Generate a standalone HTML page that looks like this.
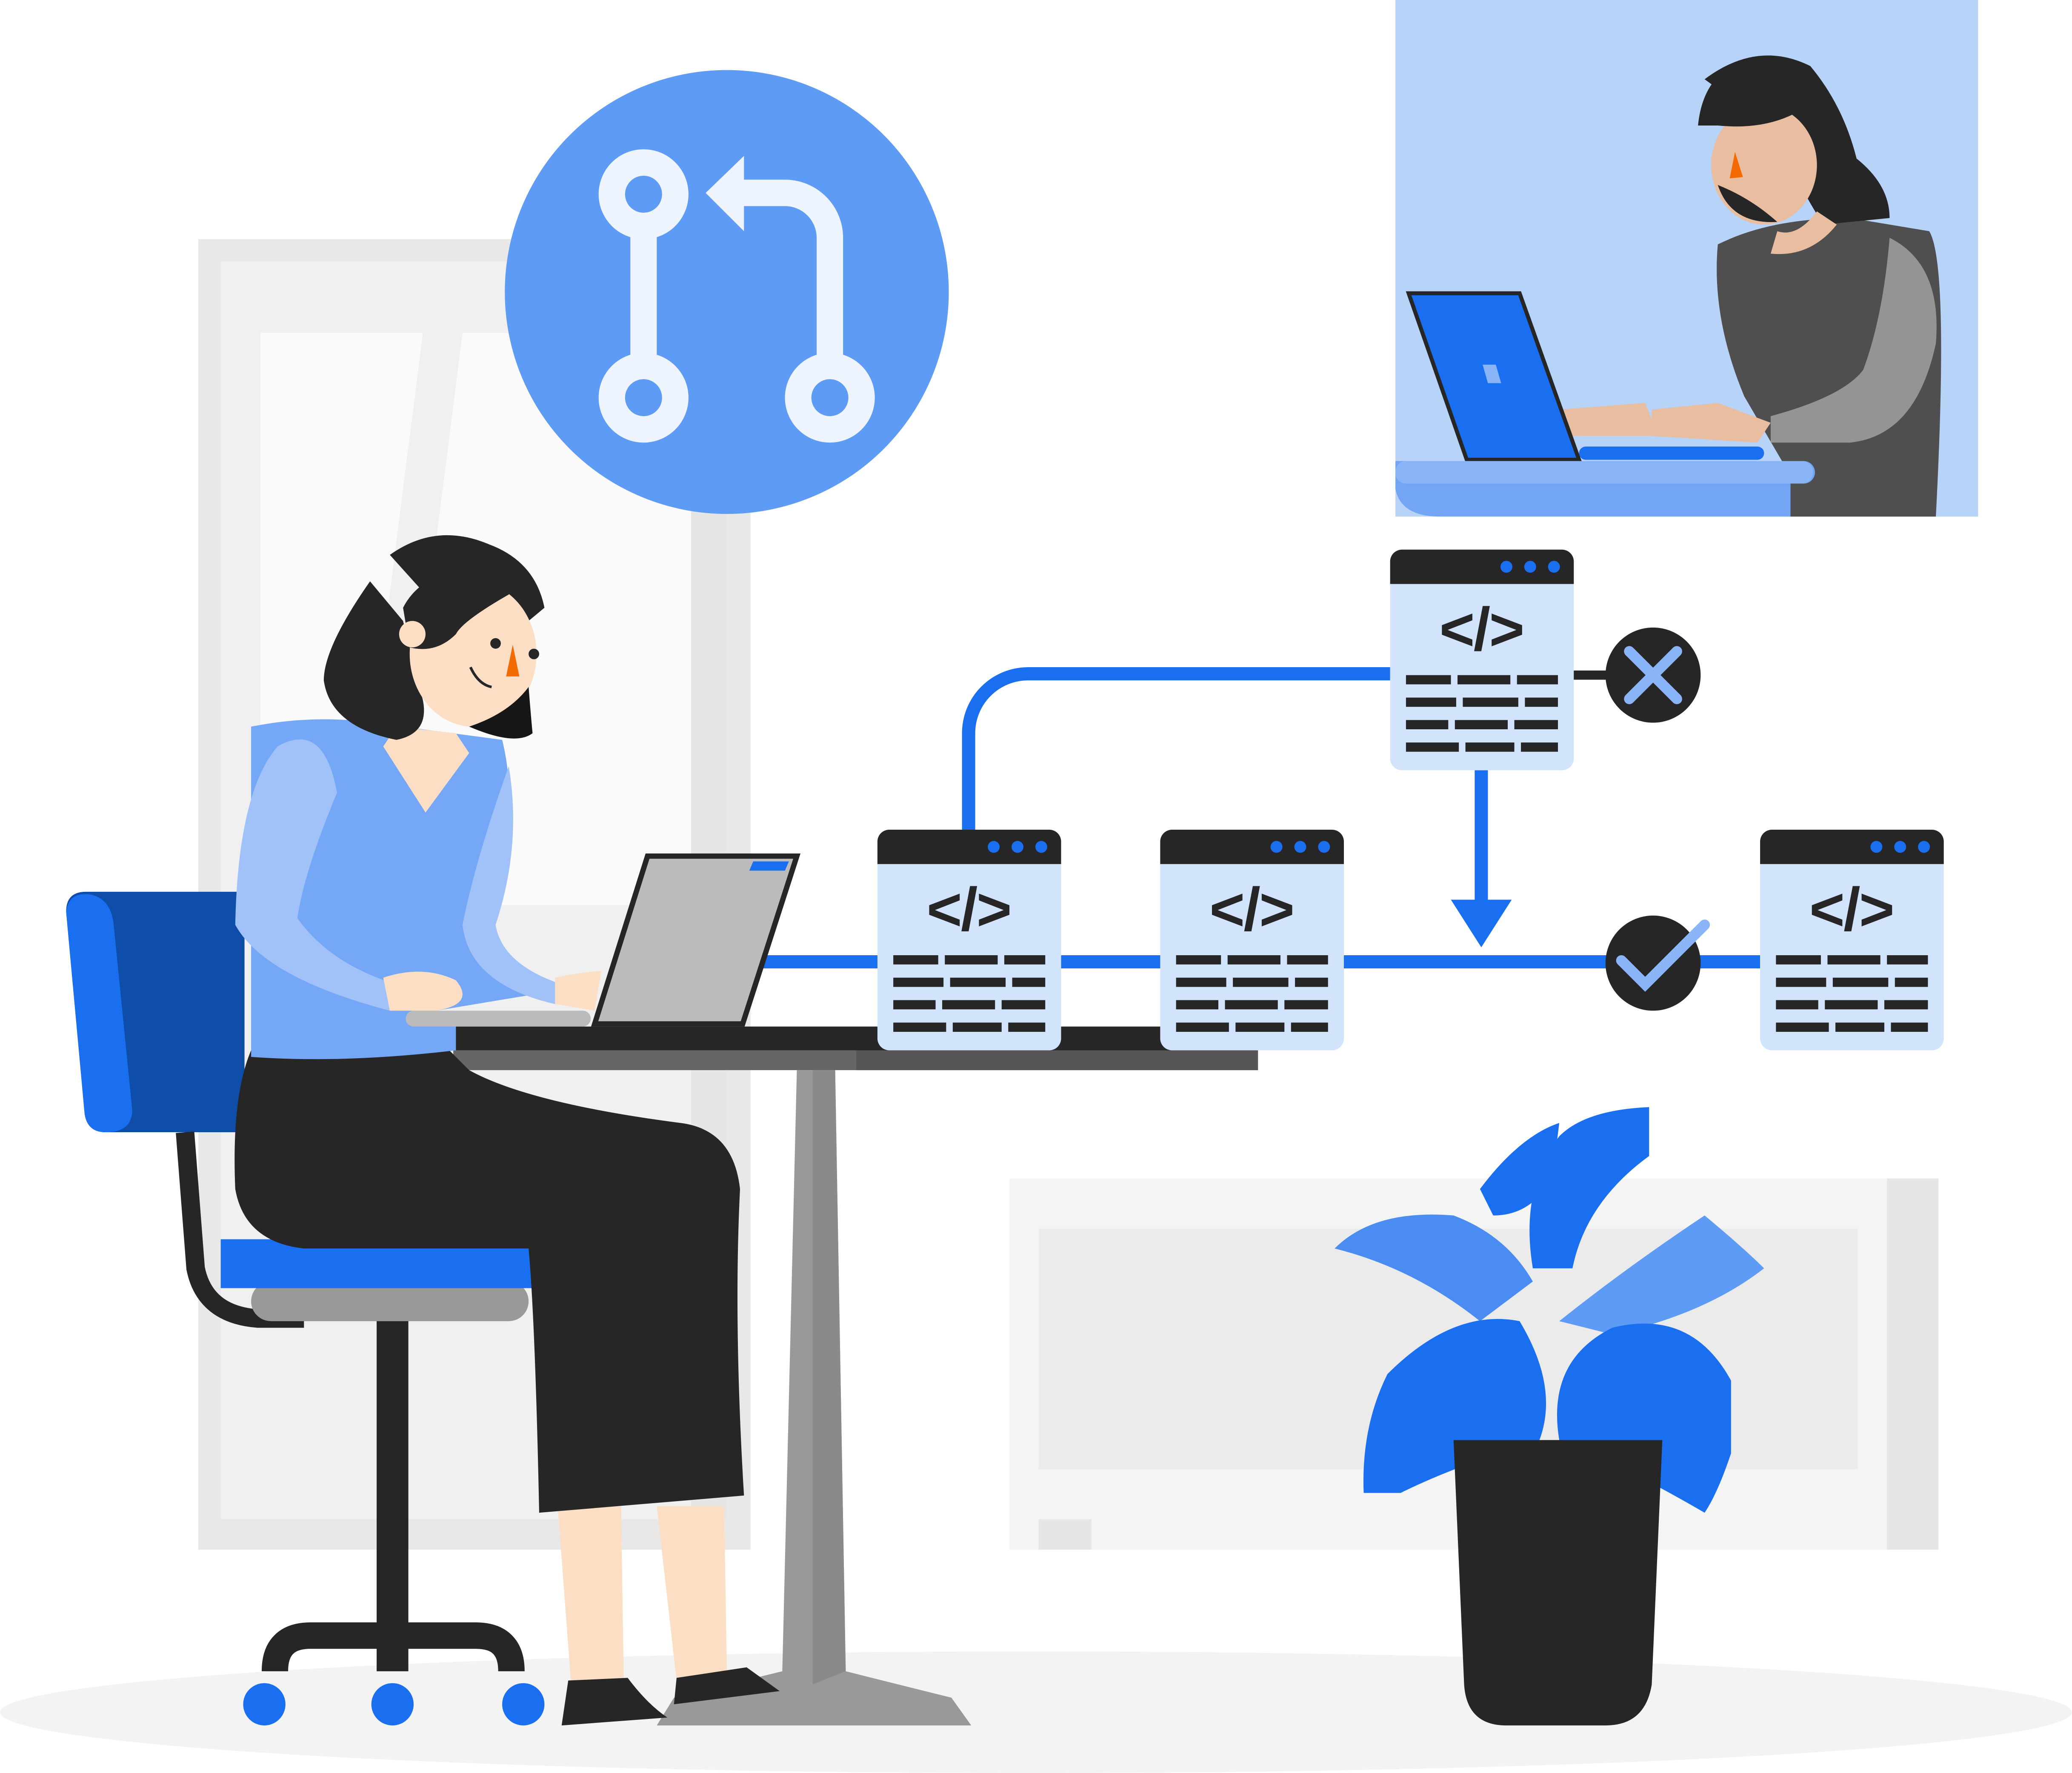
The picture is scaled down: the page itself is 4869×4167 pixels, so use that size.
<!DOCTYPE html>
<html><head><meta charset="utf-8"><style>
html,body{margin:0;padding:0;background:#fff;}
svg{display:block;}
</style></head><body>
<svg width="4869" height="4167" viewBox="0 0 1568 1342" xmlns="http://www.w3.org/2000/svg">
<defs>
<g id="win">
  <rect x="0" y="0" width="139" height="167" rx="9" fill="#d2e3fc"/>
  <path d="M0 26 V9 A9 9 0 0 1 9 0 H130 A9 9 0 0 1 139 9 V26 Z" fill="#262626"/>
  <circle cx="88" cy="13" r="4.5" fill="#1a6ff0"/>
  <circle cx="106" cy="13" r="4.5" fill="#1a6ff0"/>
  <circle cx="124" cy="13" r="4.5" fill="#1a6ff0"/>
  <text x="69" y="76" text-anchor="middle" font-family="Liberation Sans, sans-serif" font-weight="bold" font-size="46" letter-spacing="-1" fill="#262626">&lt;/&gt;</text>
  <g fill="#262626">
    <rect x="12" y="95" width="34" height="7"/><rect x="51" y="95" width="40" height="7"/><rect x="96" y="95" width="31" height="7"/>
    <rect x="12" y="112" width="38" height="7"/><rect x="55" y="112" width="42" height="7"/><rect x="102" y="112" width="25" height="7"/>
    <rect x="12" y="129" width="32" height="7"/><rect x="49" y="129" width="40" height="7"/><rect x="94" y="129" width="33" height="7"/>
    <rect x="12" y="146" width="40" height="7"/><rect x="57" y="146" width="37" height="7"/><rect x="99" y="146" width="28" height="7"/>
  </g>
</g>
</defs>
<rect width="1568" height="1342" fill="#fff"/>
<ellipse cx="784" cy="1296" rx="784" ry="46" fill="#f3f3f3"/>
<rect x="150" y="181" width="418" height="992" fill="#e8e8e8"/>
<rect x="167" y="198" width="383" height="952" fill="#f0f0f0"/>
<rect x="197" y="252" width="326" height="433" fill="#fafafa"/>
<polygon points="320,252 350,252 295,685 265,685" fill="#f0f0f0"/>
<rect x="523" y="198" width="27" height="952" fill="#e6e6e6"/>
<rect x="764" y="892" width="703" height="281" fill="#f4f4f4"/>
<rect x="786" y="930" width="620" height="182" fill="#ebebeb"/>
<rect x="1428" y="892" width="39" height="281" fill="#e6e6e6"/>
<rect x="786" y="1150" width="40" height="23" fill="#e6e6e6"/>
<circle cx="550" cy="221" r="168" fill="#5e9bf5"/>
<g fill="none" stroke="#eef4fe" stroke-width="20">
  <circle cx="487" cy="147" r="24"/>
  <circle cx="487" cy="301" r="24"/>
  <circle cx="628" cy="301" r="24"/>
  <line x1="487" y1="171" x2="487" y2="277"/>
  <path d="M628 277 V180 A34 34 0 0 0 594 146 H555"/>
</g>
<polygon points="563,118 563,175 534,146" fill="#eef4fe"/>
<rect x="1056" y="0" width="441" height="391" fill="#b7d3f8"/>
<path d="M1300 185 Q1340 165 1400 165 L1460 175 Q1475 200 1465 391 H1355 V360 L1320 300 Q1295 240 1300 185Z" fill="#4f4f4f"/>
<path d="M1430 180 Q1470 200 1465 260 Q1450 330 1400 335 L1340 335 L1340 315 Q1395 300 1410 280 Q1425 240 1430 180Z" fill="#949494"/>
<path d="M1290 60 Q1330 30 1370 50 Q1395 80 1405 120 Q1430 140 1430 165 L1380 170 Q1360 140 1345 100 Z" fill="#262626"/>
<ellipse cx="1335" cy="125" rx="40" ry="45" fill="#e9bda0"/>
<path d="M1285 95 Q1290 45 1340 42 Q1370 45 1380 70 Q1350 100 1300 95 Z" fill="#262626"/>
<path d="M1300 140 Q1310 170 1345 168 Q1325 150 1300 140Z" fill="#262626"/>
<polygon points="1313,115 1309,135 1319,134" fill="#f26a00"/>
<path d="M1340 192 Q1370 195 1390 170 L1375 160 Q1360 180 1345 175Z" fill="#e9bda0"/>
<path d="M1250 310 L1300 305 L1340 320 L1330 335 L1250 330Z" fill="#e9bda0"/>
<path d="M1180 310 L1245 305 L1255 330 L1190 330Z" fill="#e9bda0"/>
<polygon points="1066,222 1150,222 1195,348 1110,348" fill="#1a6ff0" stroke="#262626" stroke-width="3"/>
<polygon points="1122,276 1132,276 1136,290 1126,290" fill="#8ab4f8"/>
<rect x="1195" y="338" width="140" height="10" rx="5" fill="#1a6ff0"/>
<path d="M1056 349 H1365 A8 8 0 0 1 1365 366 H1355 V391 H1090 Q1060 391 1056 370Z" fill="#72a6f4"/>
<rect x="1056" y="349" width="316" height="17" rx="8" fill="#8ab4f8"/>
<g stroke="#1a6ff0" stroke-width="10" fill="none">
  <line x1="575" y1="728" x2="1332" y2="728"/>
  <path d="M733 628 V555 A45 45 0 0 1 778 510 H1052"/>
  <line x1="1121" y1="583" x2="1121" y2="685"/>
</g>
<polygon points="1098,681 1144,681 1121,717" fill="#1a6ff0"/>
<line x1="1188" y1="511" x2="1218" y2="511" stroke="#262626" stroke-width="7"/>
<circle cx="1251" cy="511" r="36" fill="#262626"/>
<g stroke="#8ab4f8" stroke-width="8" stroke-linecap="round"><line x1="1233" y1="493" x2="1269" y2="529"/><line x1="1269" y1="493" x2="1233" y2="529"/></g>
<circle cx="1251" cy="729" r="36" fill="#262626"/>
<polyline points="1227,727 1245,745 1290,700" fill="none" stroke="#8ab4f8" stroke-width="8" stroke-linecap="round"/>
<rect x="307" y="777" width="645" height="18" fill="#262626"/>
<rect x="343" y="795" width="609" height="15" fill="#666"/>
<rect x="648" y="795" width="304" height="15" fill="#565656"/>
<polygon points="603,810 632,810 640,1265 720,1285 735,1306 497,1306 510,1285 592,1265" fill="#999"/>
<polygon points="615,810 632,810 640,1265 615,1275" fill="#8a8a8a"/>
<use href="#win" x="664" y="628"/>
<use href="#win" x="878" y="628"/>
<use href="#win" x="1332" y="628"/>
<use href="#win" x="1052" y="416"/>
<path d="M50 690 Q50 675 65 675 H185 V857 H80 Q66 857 64 843Z" fill="#0f4ea8"/>
<path d="M50 690 Q52 675 68 677 Q84 680 86 700 L100 840 Q100 857 80 857 Q66 857 64 843Z" fill="#1a6ff0"/>
<path d="M140 857 L148 960 Q155 995 195 998 H230" stroke="#262626" stroke-width="14" fill="none"/>
<rect x="190" y="970" width="210" height="30" rx="15" fill="#999"/>
<rect x="167" y="938" width="240" height="37" fill="#1a6ff0"/>
<rect x="285" y="1000" width="24" height="265" fill="#262626"/>
<path d="M208 1265 Q208 1238 235 1238 H360 Q387 1238 387 1265" stroke="#262626" stroke-width="20" fill="none"/>
<circle cx="200" cy="1290" r="16" fill="#1a6ff0"/>
<circle cx="297" cy="1290" r="16" fill="#1a6ff0"/>
<circle cx="396" cy="1290" r="16" fill="#1a6ff0"/>
<polygon points="422,1140 470,1140 472,1272 432,1272" fill="#fcdec4"/>
<polygon points="497,1140 548,1140 550,1265 512,1272" fill="#fcdec4"/>
<path d="M430 1272 L475 1270 Q490 1290 505 1300 L425 1306Z" fill="#262626"/>
<path d="M512 1270 L565 1262 L590 1280 L510 1290Z" fill="#262626"/>
<path d="M190 795 Q175 830 178 900 Q185 940 230 945 L400 945 Q405 1000 408 1145 L563 1132 Q555 1000 560 900 Q555 855 515 850 Q400 835 355 810 L340 795Z" fill="#262626"/>
<path d="M190 550 Q240 540 290 548 L380 560 Q395 620 370 720 L420 750 L300 770 L190 760Z" fill="#74a8f7"/>
<path d="M178 700 Q180 600 210 565 Q245 545 255 600 Q230 660 225 695 Q250 730 300 745 L295 765 Q200 740 178 700Z" fill="#a1c2f9"/>
<path d="M350 700 Q360 650 385 580 Q395 640 375 700 Q380 730 425 745 L420 760 Q355 745 350 700Z" fill="#a1c2f9"/>
<path d="M190 760 L190 800 Q260 805 345 795 L345 770Z" fill="#74a8f7"/>
<path d="M290 565 L322 615 L355 570 L345 555 L300 550Z" fill="#fcdec4"/>
<path d="M290 740 Q320 730 345 742 Q360 760 330 765 L295 765Z" fill="#fcdec4"/>
<path d="M420 740 Q445 735 455 735 L450 765 L420 760Z" fill="#fcdec4"/>
<polygon points="490,648 603,648 562,775 450,775" fill="#bbb" stroke="#262626" stroke-width="4"/>
<polygon points="570,652 597,652 594,659 567,659" fill="#1a6ff0"/>
<rect x="307" y="765" width="140" height="12" rx="6" fill="#bbb"/>
<path d="M295 420 Q330 395 370 412 Q405 425 412 460 L400 470 Q350 480 340 470Z" fill="#262626"/>
<path d="M280 440 Q245 490 245 515 Q250 550 300 560 Q325 555 320 530 L305 470Z" fill="#262626"/>
<ellipse cx="358" cy="495" rx="48" ry="55" fill="#fcdec4"/>
<path d="M305 460 Q320 430 375 425 Q390 440 385 450 Q350 470 345 480 Q330 495 310 490Z" fill="#262626"/>
<circle cx="312" cy="480" r="10" fill="#fcdec4"/>
<path d="M400 520 Q402 545 403 555 Q390 565 355 550 Q385 540 400 520Z" fill="#161616"/>
<polygon points="388,488 383,512 393,512" fill="#f26a00"/>
<circle cx="375" cy="487" r="4" fill="#262626"/>
<circle cx="404" cy="495" r="4" fill="#262626"/>
<path d="M356 505 Q362 518 372 520" stroke="#262626" stroke-width="2" fill="none"/>
<g fill="#1a6ff0">
  <path d="M1160 960 Q1150 900 1180 860 Q1200 840 1248 838 L1248 875 Q1200 910 1190 960Z"/>
  <path d="M1120 1000 Q1070 960 1010 945 Q1040 915 1100 920 Q1140 935 1160 970Z" fill="#4a8cf2"/>
  <path d="M1180 1000 Q1230 960 1290 920 Q1320 945 1335 960 Q1290 995 1220 1010Z" fill="#5e9bf5"/>
  <path d="M1050 1040 Q1100 990 1150 1000 Q1180 1050 1165 1090 Q1100 1110 1060 1130 L1032 1130 Q1030 1080 1050 1040Z"/>
  <path d="M1180 1090 Q1170 1030 1220 1005 Q1280 990 1310 1045 L1310 1100 Q1300 1130 1290 1145 Q1230 1110 1180 1090Z"/>
  <path d="M1120 900 Q1150 860 1180 850 L1175 890 Q1160 920 1130 920Z"/>
</g>
<path d="M1100 1090 L1258 1090 L1250 1275 Q1245 1306 1215 1306 H1140 Q1110 1306 1108 1275Z" fill="#262626"/>
</svg>
</body></html>
